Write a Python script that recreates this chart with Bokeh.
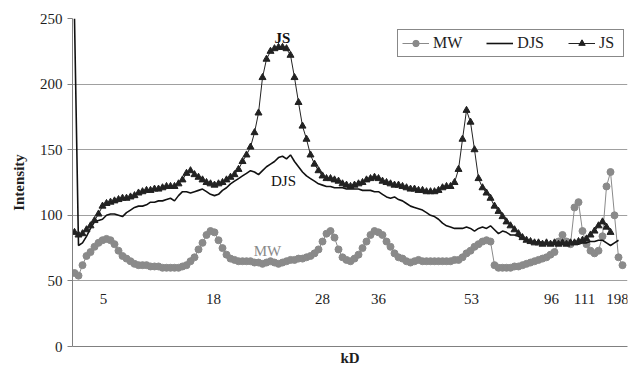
from bokeh.plotting import figure
from bokeh.models import Range1d, FixedTicker, Legend, LegendItem, ColumnDataSource, Label
from bokeh.core.properties import value
from bokeh.embed import file_html
from bokeh.resources import INLINE

# ---- data (lane position index along the gel, intensity) ----
js = [87, 85, 86, 89, 92, 96, 101, 107, 109, 110,
      111, 112, 113, 113, 114, 115, 117, 118, 119, 119,
      120, 120, 121, 122, 122, 122, 124, 127, 132, 134,
      131, 129, 127, 125, 124, 123, 124, 125, 127, 129,
      131, 135, 141, 146, 152, 163, 178, 205, 219, 225,
      227, 228, 228, 227, 222, 205, 186, 168, 158, 146,
      139, 134, 130, 128, 128, 127, 126, 124, 123, 122,
      123, 124, 125, 127, 128, 129, 128, 126, 125, 124,
      123, 123, 122, 121, 120, 120, 119, 119, 118, 118,
      118, 119, 121, 122, 122, 125, 135, 158, 180, 171,
      150, 128, 121, 117, 113, 107, 103, 99, 95, 92,
      89, 86, 83, 81, 80, 79, 79, 78, 79, 78,
      79, 78, 79, 78, 79, 79, 80, 81, 82, 85,
      88, 92, 95, 91, 87]

djs = [250, 77, 79, 84, 90, 95, 96, 97, 100, 101,
       101, 100, 99, 102, 104, 106, 107, 107, 108, 110,
       110, 111, 111, 112, 113, 111, 115, 118, 118, 117,
       118, 119, 120, 118, 116, 115, 116, 119, 121, 124,
       126, 128, 130, 132, 134, 133, 131, 134, 137, 139,
       141, 144, 145, 143, 146, 141, 137, 133, 130, 128,
       126, 124, 123, 122, 122, 121, 121, 121, 120, 120,
       120, 120, 119, 119, 119, 118, 118, 116, 114, 113,
       114, 112, 111, 109, 107, 106, 105, 104, 102, 100,
       99, 97, 94, 92, 91, 90, 90, 90, 91, 90,
       88, 90, 91, 90, 92, 89, 86, 88, 87, 85,
       85, 84, 82, 81, 80, 79, 80, 79, 78, 79,
       78, 79, 78, 78, 79, 78, 78, 79, 79, 80,
       80, 81, 81, 79, 77, 79, 81]

mw = [56, 54, 62, 69, 72, 76, 79, 81, 82, 81,
      78, 73, 69, 67, 65, 63, 62, 62, 62, 61,
      61, 61, 60, 60, 60, 60, 60, 61, 62, 65,
      68, 74, 79, 85, 88, 87, 81, 75, 70, 67,
      66, 65, 65, 65, 65, 64, 64, 63, 64, 65,
      64, 63, 64, 65, 66, 66, 67, 67, 68, 69,
      71, 74, 80, 86, 88, 83, 74, 68, 66, 65,
      67, 70, 75, 80, 85, 88, 87, 85, 80, 76,
      71, 68, 67, 65, 64, 65, 66, 65, 65, 65,
      65, 65, 65, 65, 65, 66, 66, 68, 71, 73,
      76, 78, 80, 81, 80, 62, 60, 60, 60, 60,
      61, 61, 62, 63, 64, 65, 66, 67, 68, 70,
      72, 80, 85, 80, 78, 106, 110, 88, 78, 73,
      71, 73, 84, 122, 133, 100, 68, 62]

kd_labels = ["5", "18", "28", "36", "53", "96", "111", "198"]
kd_pos = [7.25, 34.75, 62, 76, 99.25, 119.25, 127.5, 135.75]
kd_label_y = 36

y_ticks = [0, 50, 100, 150, 200, 250]

SERIF = "Liberation Serif"
TXT = "#1e1e1e"
GRAY = "#8a8a8a"
GRID = "#a0a0a0"

p = figure(width=634, height=368, output_backend="svg", toolbar_location=None,
           x_range=Range1d(-0.5, 138.25), y_range=Range1d(0, 250),
           min_border_left=72, min_border_right=7, min_border_top=18,
           min_border_bottom=19)
p.outline_line_color = None
p.background_fill_color = "white"
p.border_fill_color = "white"

# grid
p.xgrid.grid_line_color = None
p.ygrid.grid_line_color = GRID
p.ygrid.grid_line_width = 1

# y axis
p.yaxis.ticker = FixedTicker(ticks=y_ticks)
p.yaxis.axis_label = "Intensity"
p.yaxis.axis_label_text_font = SERIF
p.yaxis.axis_label_text_font_style = "bold"
p.yaxis.axis_label_text_font_size = "15px"
p.yaxis.axis_label_text_color = TXT
p.yaxis.axis_label_standoff = 10
p.yaxis.major_label_text_font = SERIF
p.yaxis.major_label_text_font_size = "15px"
p.yaxis.major_label_text_color = TXT
p.yaxis.major_label_standoff = 5
p.yaxis.major_tick_out = 5
p.yaxis.major_tick_in = 0
p.yaxis.minor_tick_line_color = None
p.yaxis.axis_line_color = "#808080"
p.yaxis.major_tick_line_color = "#808080"

# x axis
p.xaxis.ticker = FixedTicker(ticks=[])
p.xaxis.axis_label = "kD"
p.xaxis.axis_label_text_font = SERIF
p.xaxis.axis_label_text_font_style = "bold"
p.xaxis.axis_label_text_font_size = "15px"
p.xaxis.axis_label_text_color = TXT
p.xaxis.axis_label_standoff = 3
p.xaxis.major_label_standoff = 0
p.xaxis.major_tick_out = 0
p.xaxis.major_tick_in = 0
p.xaxis.minor_tick_line_color = None
p.xaxis.axis_line_color = "#808080"

# series
mw_src = ColumnDataSource(dict(x=list(range(len(mw))), y=mw))
djs_src = ColumnDataSource(dict(x=list(range(len(djs))), y=djs))
js_src = ColumnDataSource(dict(x=list(range(len(js))), y=js))

mw_line = p.line("x", "y", source=mw_src, line_color=GRAY, line_width=1)
mw_pts = p.scatter("x", "y", source=mw_src, marker="circle", size=7,
                   fill_color=GRAY, line_color=GRAY)
djs_line = p.line("x", "y", source=djs_src, line_color="#111111", line_width=1.6)
js_line = p.line("x", "y", source=js_src, line_color="#222222", line_width=1)
js_pts = p.scatter("x", "y", source=js_src, marker="triangle", size=7,
                   fill_color="#222222", line_color="#222222")

# kD labels
kd_src = ColumnDataSource(dict(x=kd_pos, y=[kd_label_y] * len(kd_pos), t=kd_labels))
p.text("x", "y", text="t", source=kd_src, text_font=value(SERIF),
       text_font_size="15px", text_color=TXT, text_align="center",
       text_baseline="middle")

# series annotations
p.add_layout(Label(x=52, y=235, text="JS", text_font=SERIF, text_font_size="15px",
                   text_font_style="bold", text_color="#111111",
                   text_align="center", text_baseline="middle"))
p.add_layout(Label(x=52.25, y=126, text="DJS", text_font=SERIF, text_font_size="15px",
                   text_color="#111111", text_align="center", text_baseline="middle"))
p.add_layout(Label(x=48.25, y=73, text="MW", text_font=SERIF, text_font_size="15px",
                   text_color=GRAY, text_align="center", text_baseline="middle"))

legend = Legend(items=[LegendItem(label="MW", renderers=[mw_line, mw_pts]),
                       LegendItem(label="DJS", renderers=[djs_line]),
                       LegendItem(label="JS", renderers=[js_line, js_pts])],
                orientation="horizontal", location=(325, 296))
legend.border_line_color = "#111111"
legend.border_line_width = 1
legend.background_fill_color = "white"
legend.background_fill_alpha = 1
legend.label_text_font = SERIF
legend.label_text_font_size = "16px"
legend.label_text_color = TXT
legend.glyph_width = 27
legend.glyph_height = 16
legend.label_height = 16
legend.label_standoff = 4
legend.spacing = 24
legend.padding = 4
legend.margin = 0
legend.location = (325, 289)
p.add_layout(legend, "center")

open("out.html", "w").write(file_html(p, INLINE))
